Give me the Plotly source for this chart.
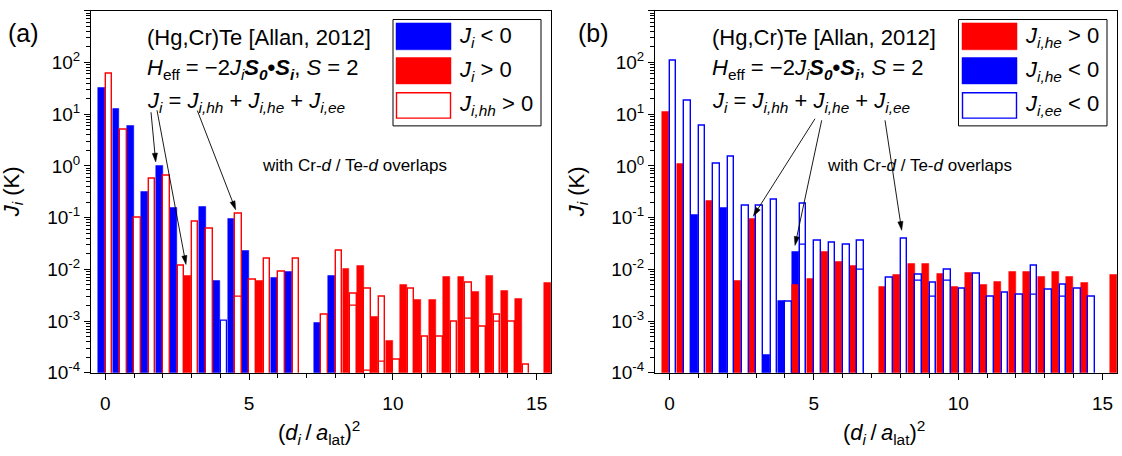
import math
import plotly.graph_objects as go

W, H = 1122, 456
FONT = "Liberation Sans, Arial, sans-serif"
BLUE = "#0000FF"
RED = "#FF0000"

# ---------------- data ----------------
# squared shell distance (d_i/a_lat)^2 (as plotted)
SHELLS = [0, 0.5, 1, 1.5, 2, 2.5, 3, 3.5, 4, 4.5, 5, 5.5, 6, 6.5, 7.5, 8, 8.5, 9, 9.5,
          10, 10.5, 11, 11.5, 12, 12.5, 13, 13.5, 14, 14.5, 15, 15.5]

# panel (a): total J_i (signed, K)
J_I = [-33, -13, -6.1, -0.32, -1.03, -0.157, 0.0074, -0.163, -0.0059, -0.096, -0.0225,
       0.0059, -0.0068, -0.009, -0.00092, -0.0076, 0.0102, 0.012, 0.0012, 0.00042, 0.005,
       0.0026, 0.0026, 0.0072, 0.0071, 0.0037, 0.0074, 0.0038, 0.0027, None, 0.0055]
# panel (a): J_i,hh (signed, K)
J_I_HH = [61, 4.9, 0.1, 0.56, 0.64, 0.012, 0.085, 0.062, -0.001, 0.12, 0.0063, 0.0157,
          0.0089, 0.0157, 0.0013, 0.0234, 0.0034, 0.0042, 0.003, 0.00018, 0.0042, 0.0005,
          0.0005, 0.00096, 0.0055, 0.00076, 0.0013, 0.00096, 0.00014, None, None]
# panel (a): second J_i,hh contribution drawn inside the same columns
J_I_HH_2 = [None, None, None, None, None, None, None, None, None, 0.003, None, None, None,
            None, None, None, 0.002, 0.00011, 0.00016, None, None, None, None, None, 0.0011,
            None, 0.00096, None, None, None, None]

# panel (b): J_i,he > 0 and |J_i,he| for J_i,he < 0 (K)
J_I_HE_POS = [11, 1.08, None, 0.21, None, 0.0059, 0.096, None, None, 0.005, 0.0065, 0.022,
              0.014, 0.012, 0.0046, 0.0078, 0.0126, 0.013, 0.0081, 0.0046, 0.0087, 0.005,
              0.0057, 0.0091, 0.0091, 0.0071, 0.0091, 0.0071, 0.0055, None, 0.0078]
J_I_HE_NEG = [None, None, 0.114, None, 0.155, None, None, 0.00022, 0.0025, 0.022, None, None,
              None, None, None, None, None, None, None, None, None, None, None, None, None,
              None, None, None, None, None, None]
# panel (b): |J_i,ee| (all negative)
J_I_EE = [106, 18.6, 5.9, 1.1, 1.52, 0.17, 0.17, 0.22, 0.0024, 0.186, 0.035, 0.032, 0.030,
          0.036, 0.0069, 0.039, 0.0079, 0.0055, 0.0098, 0.0043, 0.0081, 0.003, 0.0035, 0.0032,
          0.0115, 0.0041, 0.005, 0.0043, 0.003, None, None]
J_I_EE_2 = [None, None, None, None, None, None, None, None, None, 0.0296, None, None, None,
            0.0099, None, None, 0.0059, 0.003, 0.006, None, None, None, None, None, 0.0032,
            None, 0.0029, None, None, None, None]

X_TICKS = [0, 5, 10, 15]
X_TICK_TEXT = ["0", "5", "10", "15"]
Y_TICKS = [1e-4, 1e-3, 1e-2, 1e-1, 1e0, 1e1, 1e2, 1e3]
Y_TICK_TEXT = ["10<sup>-4</sup>", "10<sup>-3</sup>", "10<sup>-2</sup>", "10<sup>-1</sup>",
               "10<sup>0</sup>", "10<sup>1</sup>", "10<sup>2</sup>", "10<sup>3</sup>"]
X_MINOR = list(range(0, 16))
Y_MINOR = [m * 10.0 ** e for e in range(-4, 3) for m in range(2, 10)]


def neg(vals):
    return [abs(v) if (v is not None and v < 0) else None for v in vals]


def pos(vals):
    return [v if (v is not None and v > 0) else None for v in vals]


def bar(y, xa, ya, fill, line, lw, offset, width):
    return go.Bar(x=SHELLS, y=y, xaxis=xa, yaxis=ya, offset=offset, width=width,
                  marker=dict(color=fill, line=dict(color=line, width=lw)),
                  showlegend=False, hoverinfo="skip")


FILL_OFF, FILL_W = -0.25, 0.24
OUT_OFF, OUT_W = 0.012, 0.226

traces = [
    # panel (a)
    bar(neg(J_I), "x", "y", BLUE, BLUE, 0.5, FILL_OFF, FILL_W),
    bar(pos(J_I), "x", "y", RED, RED, 0.5, FILL_OFF, FILL_W),
    bar(pos(J_I_HH), "x", "y", "white", RED, 1.4, OUT_OFF, OUT_W),
    bar(neg(J_I_HH), "x", "y", "white", BLUE, 1.2, OUT_OFF, OUT_W),
    bar(J_I_HH_2, "x", "y", "rgba(0,0,0,0)", RED, 1.2, OUT_OFF, OUT_W),
    # panel (b)
    bar(J_I_HE_NEG, "x2", "y2", BLUE, BLUE, 0.5, FILL_OFF, FILL_W),
    bar(J_I_HE_POS, "x2", "y2", RED, RED, 0.5, FILL_OFF, FILL_W),
    bar(J_I_EE, "x2", "y2", "white", BLUE, 1.4, OUT_OFF, OUT_W),
    bar(J_I_EE_2, "x2", "y2", "rgba(0,0,0,0)", BLUE, 1.2, OUT_OFF, OUT_W),
]

fig = go.Figure(traces)


def xaxis(dom, anchor):
    return dict(domain=dom, anchor=anchor, range=[-0.5, 15.5], tickmode="array",
                tickvals=X_TICKS, ticktext=X_TICK_TEXT, ticks="outside", ticklen=6,
                tickwidth=1, tickcolor="black", showline=True, linecolor="black",
                linewidth=1, mirror=True, showgrid=False, zeroline=False,
                ticklabelstandoff=7,
                tickfont=dict(size=19, color="black", family=FONT),
                minor=dict(tickmode="array", tickvals=X_MINOR, ticks="outside", ticklen=4,
                           tickwidth=1, tickcolor="black", showgrid=False))


def yaxis(anchor):
    return dict(domain=[74 / H, 445 / H], anchor=anchor, type="log", range=[-4, 3],
                tickmode="array", tickvals=Y_TICKS, ticktext=Y_TICK_TEXT, ticks="outside",
                ticklen=6, tickwidth=1, tickcolor="black", showline=True, linecolor="black",
                linewidth=1, mirror=True, showgrid=False, zeroline=False,
                tickfont=dict(size=19, color="black", family=FONT),
                minor=dict(tickmode="array", tickvals=Y_MINOR, ticks="outside", ticklen=4,
                           tickwidth=1, tickcolor="black", showgrid=False))


def P(px, py):
    return px / W, 1 - py / H


annotations = []
shapes = []


def text(px, py, s, size=22, xanchor="left", yanchor="middle", angle=0):
    x, y = P(px, py)
    annotations.append(dict(x=x, y=y, xref="paper", yref="paper", text=s, showarrow=False,
                            xanchor=xanchor, yanchor=yanchor, textangle=angle,
                            font=dict(size=size, color="black", family=FONT)))


def arrow(tail, head, hl=9.0, hw=2.6):
    tx, ty = tail
    hx, hy = head
    d = math.hypot(hx - tx, hy - ty)
    ux, uy = (hx - tx) / d, (hy - ty) / d
    bx, by = hx - ux * hl, hy - uy * hl
    nx, ny = -uy, ux
    a0, b0 = P(tx, ty)
    a1, b1 = P(bx + ux * 1.0, by + uy * 1.0)
    shapes.append(dict(type="line", xref="paper", yref="paper", x0=a0, y0=b0, x1=a1, y1=b1,
                       line=dict(color="black", width=0.9)))
    pts = [(hx, hy), (bx + nx * hw, by + ny * hw), (bx - nx * hw, by - ny * hw)]
    path = "M " + " L ".join("%.5f,%.5f" % P(px, py) for px, py in pts) + " Z"
    shapes.append(dict(type="path", xref="paper", yref="paper", path=path,
                       fillcolor="black", line=dict(color="black", width=0.5)))


def rect(x0, y0, x1, y1, fill, line, lw):
    a0, b0 = P(x0, y0)
    a1, b1 = P(x1, y1)
    shapes.append(dict(type="rect", xref="paper", yref="paper", x0=a0, y0=b1, x1=a1, y1=b0,
                       fillcolor=fill, line=dict(color=line, width=lw)))


HEFF = ("<i>H</i><sub>eff</sub> = −2<i>J<sub>i</sub></i><b><i>S<sub>0</sub></i>•"
        "<i>S<sub>i</sub></i></b>, <i>S</i> = 2")
JSUM = ("<i>J<sub>i</sub></i> = <i>J<sub>i,hh</sub></i> + <i>J<sub>i,he</sub></i> + "
        "<i>J<sub>i,ee</sub></i>")
OVL = "with Cr-<i>d</i> / Te-<i>d</i> overlaps"
YT = "<i>J<sub>i</sub></i> (K)"
XT = "(<i>d<sub>i</sub></i>\u2009/\u2009<i>a</i><sub>lat</sub>)<sup>2</sup>"

text(6, 34, "(a)", size=25)
text(576, 34, "(b)", size=25)
for dx in (0, 565):
    text(145 + dx, 38, "(Hg,Cr)Te [Allan, 2012]")
    text(145 + dx, 71, HEFF)
    text(145 + dx, 105, JSUM)
    text(260 + dx, 170, OVL, size=17)
    text(13 + dx, 197, YT, xanchor="center", angle=-90)
    text(319 + dx, 443, XT, xanchor="center")

# panel (a) legend
rect(393, 20, 541, 129, "white", "black", 1)
rect(396, 23.5, 451, 51, BLUE, BLUE, 0.5)
rect(396, 59, 451, 86, RED, RED, 0.5)
rect(396.5, 95, 450.5, 121, "white", RED, 1.4)
text(457, 38, "<i>J<sub>i</sub></i> &lt; 0")
text(457, 73, "<i>J<sub>i</sub></i> &gt; 0")
text(457, 108, "<i>J<sub>i,hh</sub></i> &gt; 0")

# panel (b) legend
rect(958.5, 20, 1107, 129, "white", "black", 1)
rect(962, 23.5, 1017, 51, RED, RED, 0.5)
rect(962, 59, 1017, 86, BLUE, BLUE, 0.5)
rect(962.5, 95, 1016.5, 121, "white", BLUE, 1.4)
text(1023, 38, "<i>J<sub>i,he</sub></i> &gt; 0")
text(1023, 73, "<i>J<sub>i,he</sub></i> &lt; 0")
text(1023, 108, "<i>J<sub>i,ee</sub></i> &lt; 0")

# arrows
arrow((151, 115), (155.7, 166))
arrow((157, 113), (186, 271))
arrow((197.3, 113.3), (235.7, 215))
arrow((815, 121.7), (753.3, 221.5))
arrow((821.7, 123.3), (795, 251.5))
arrow((885, 123.3), (901.7, 236))

fig.update_layout(
    width=W, height=H, margin=dict(l=0, r=0, t=0, b=0),
    paper_bgcolor="white", plot_bgcolor="white", barmode="overlay", bargap=0,
    showlegend=False, font=dict(family=FONT, color="black"),
    xaxis=xaxis([91 / W, 551 / W], "y"), yaxis=yaxis("x"),
    xaxis2=xaxis([655 / W, 1117 / W], "y2"), yaxis2=yaxis("x2"),
    annotations=annotations, shapes=shapes,
)

fig.write_html("out.html")
